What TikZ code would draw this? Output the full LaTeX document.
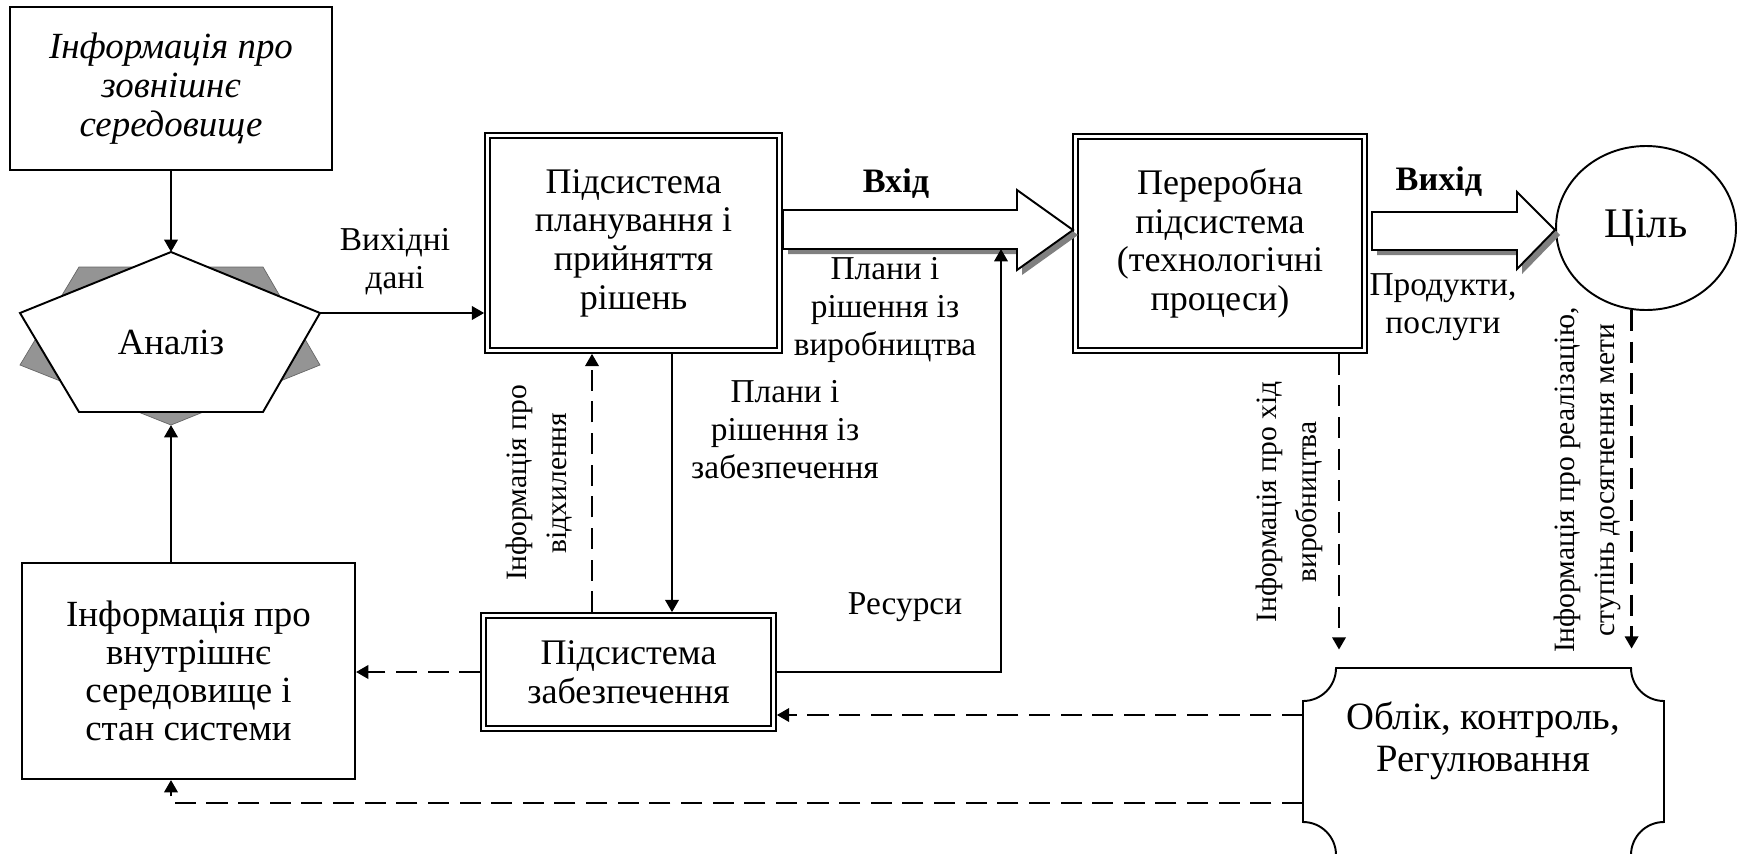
\documentclass[tikz,border=0pt]{standalone}
\usepackage{fontspec}
\setmainfont{Liberation Serif}
\usetikzlibrary{arrows.meta,shapes.geometric,shadows}

\tikzset{
  txt/.style={font=\fontsize{19}{21.6}\selectfont},
  btxt/.style={font=\fontsize{20.5}{22}\selectfont},
  box/.style={btxt, draw, line width=1.1pt, align=center, inner sep=0pt},
  dbox/.style={box, double, double distance=1.5pt, outer sep=1.85pt},
  lbl/.style={txt, align=center, inner sep=0pt},
  vlbl/.style={lbl, rotate=90, font=\fontsize{16.8}{22.7}\selectfont},
  arr/.style={line width=1.6pt, -{Triangle[length=7pt,width=7.5pt]}},
  darr/.style={arr, dash pattern=on 12pt off 6pt},
  shd/.style={fill=white, line width=1.1pt, drop shadow={opacity=1, fill=black!50, shadow xshift=0.1cm, shadow yshift=-0.1cm}},
}

\begin{document}
\begin{tikzpicture}
  \useasboundingbox (0,0) rectangle (34.76,-17.06);

  % left column
  \node[box, minimum width=6.44cm, minimum height=3.26cm, font=\fontsize{21}{22}\selectfont\itshape] (ext) at (3.42,-1.77) {Інформація про\\зовнішнє\\середовище};
  \filldraw[fill=black!42, draw=black!60, line width=0.4pt] (1.58,-5.34) -- (5.26,-5.34) -- (6.40,-7.30) -- (3.42,-8.50) -- (0.40,-7.30) -- cycle;
  \filldraw[fill=white, line width=1.1pt] (3.42,-5.04) -- (6.40,-6.26) -- (5.26,-8.24) -- (1.58,-8.24) -- (0.40,-6.26) -- cycle;
  \node[lbl, font=\fontsize{21}{22}\selectfont] (anal) at (3.42,-6.84) {Аналіз};
  \coordinate (antop) at (3.42,-5.04);
  \coordinate (anright) at (6.40,-6.26);
  \coordinate (anbot) at (3.42,-8.50);
  \node[box, font=\fontsize{21}{21.6}\selectfont, minimum width=6.66cm, minimum height=4.32cm] (int) at (3.77,-13.42) {Інформація про\\внутрішнє\\середовище і\\стан системи};

  % subsystems
  \node[dbox, minimum width=5.84cm, minimum height=4.30cm] (plan) at (12.67,-4.86) {Підсистема\\планування і\\прийняття\\рішень};
  \node[dbox, minimum width=5.78cm, minimum height=4.28cm] (proc) at (24.40,-4.87) {Переробна\\підсистема\\(технологічні\\процеси)};
  \node[dbox, minimum width=5.80cm, minimum height=2.26cm] (supply) at (12.57,-13.44) {Підсистема\\забезпечення};
  \node[box, ellipse, font=\fontsize{24}{26}\selectfont, minimum width=3.60cm, minimum height=3.28cm] (ciel) at (32.92,-4.56) {Ціль};

  % control block
  \node[minimum width=7.22cm, minimum height=3.74cm] (ctrl) at (29.67,-15.23) {};
  \draw[line width=1.1pt] (26.72,-13.36) -- (32.62,-13.36) arc[start angle=180, end angle=270, radius=0.66]
    -- (33.28,-16.44) arc[start angle=90, end angle=180, radius=0.66]
    -- (26.72,-17.10) arc[start angle=0, end angle=90, radius=0.66]
    -- (26.06,-14.02) arc[start angle=270, end angle=360, radius=0.66] -- cycle;
  \node[lbl, font=\fontsize{22}{24}\selectfont] (ctrltxt) at (29.66,-14.82) {Облік, контроль,\\Регулювання};

  % big arrows
  \filldraw[shd] (15.66,-4.20) -- (20.34,-4.20) -- (20.34,-3.80) -- (21.46,-4.60) -- (20.34,-5.40) -- (20.34,-4.98) -- (15.66,-4.98) -- cycle;
  \filldraw[shd] (27.44,-4.24) -- (30.34,-4.24) -- (30.34,-3.84) -- (31.10,-4.60) -- (30.34,-5.38) -- (30.34,-5.00) -- (27.44,-5.00) -- cycle;
  \coordinate (inbot) at (20.02,-4.98);
  \node[lbl, font=\fontsize{19.5}{21.6}\selectfont\bfseries] (inlbl) at (17.92,-3.68) {Вхід};
  \node[lbl, font=\fontsize{19.5}{21.6}\selectfont\bfseries] (outlbl) at (28.78,-3.64) {Вихід};

  % connectors
  \coordinate (p1) at ([xshift=0.77cm]plan.south);
  \coordinate (p2) at ([xshift=-0.83cm]plan.south);
  \coordinate (p3) at ([xshift=2.38cm]proc.south);
  \coordinate (c1) at (26.06,-14.30);
  \coordinate (c2) at (26.06,-16.06);

  \draw[arr] (ext.south) -- (antop);
  \draw[arr] (antop |- int.north) -- (anbot);
  \draw[arr] (anright) -- (anright -| plan.west);
  \draw[arr] (p1) -- (p1 |- supply.north);
  \draw[darr] (p2 |- supply.north) -- (p2);
  \draw[arr] (supply.east) -| (inbot);
  \draw[darr] (supply.west) -- (supply.west -| int.east);
  \draw[darr, shorten >=0.36cm] (p3) -- (p3 |- ctrl.north);
  \draw[darr, shorten >=0.38cm] (ciel.-100) -- (ciel.-100 |- ctrl.north);
  \draw[darr] (c1) -- (c1 -| supply.east);
  \draw[darr] (c2) -| (antop |- int.south);

  % labels
  \node[lbl] (srclbl) at (7.90,-5.24) {Вихідні\\дані};
  \node[lbl] (plprod) at (17.70,-6.20) {Плани і\\рішення із\\виробництва};
  \node[lbl] (plsup) at (15.70,-8.60) {Плани і\\рішення із\\забезпечення};
  \node[lbl] (reslbl) at (18.10,-12.14) {Ресурси};
  \node[lbl] (prodout) at (28.86,-6.14) {Продукти,\\послуги};
  \node[vlbl] (devlbl) at (10.78,-9.66) {Інформація про\\відхилення};
  \node[vlbl] (prodlbl) at (25.78,-10.04) {Інформація про хід\\виробництва};
  \node[vlbl] (goallbl) at (31.74,-9.60) {Інформація про реалізацію,\\ступінь досягнення мети};
\end{tikzpicture}
\end{document}
